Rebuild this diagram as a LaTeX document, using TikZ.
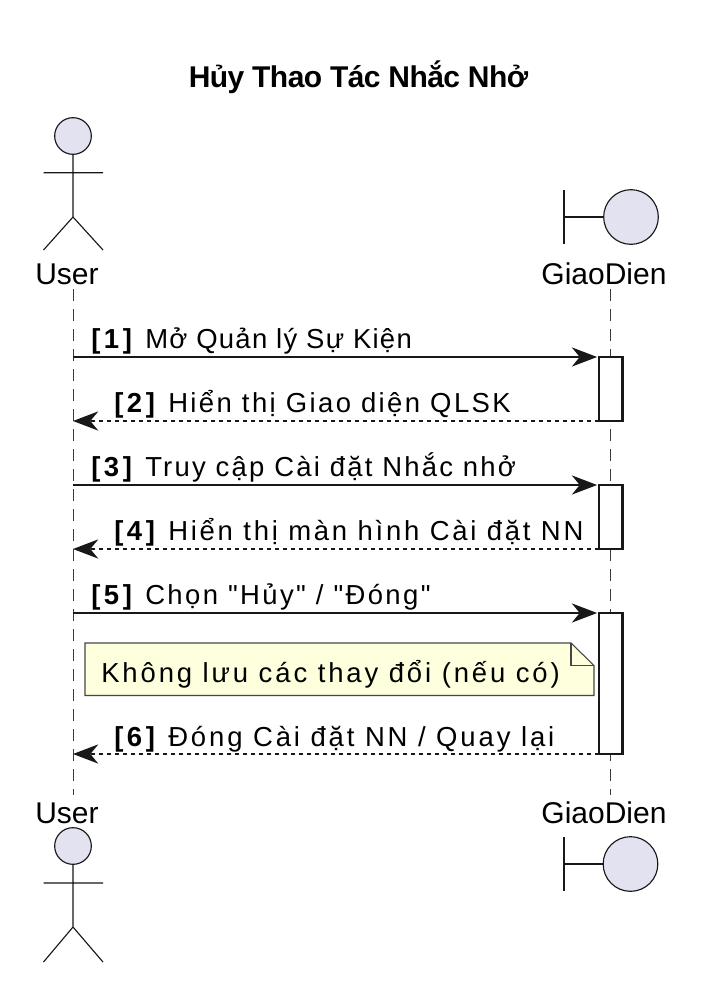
\documentclass[tikz,border=0pt]{standalone}
\usepackage{fontspec}
\setmainfont{Liberation Sans}
\usetikzlibrary{arrows.meta}
\definecolor{ink}{HTML}{181818}
\definecolor{part}{HTML}{E2E2F0}
\definecolor{notefill}{HTML}{FEFFDD}
\newfontfamily\msgfont{Liberation Sans}
\newfontfamily\msgbold[LetterSpace=13]{Liberation Sans Bold}
\newfontfamily\titlefont[LetterSpace=-1.8]{Liberation Sans Bold}
\tikzset{
  glyph/.style={draw=ink,line width=0.85pt},
  headfill/.style={glyph,fill=part},
  life/.style={draw=ink!85,line width=0.75pt,dash pattern=on 9pt off 6pt},
  partlabel/.style={inner sep=0pt,anchor=base,font=\fontsize{22.5}{27}\selectfont,text=black},
  msgtext/.style={inner sep=0pt,anchor=base west,font=\fontsize{20.6}{24}\msgfont,text=black},
  activ/.style={draw=ink,line width=1.6pt,fill=white,minimum width=17.6pt,inner sep=0pt,outer sep=0pt,anchor=north},
  msg/.style={draw=ink,line width=1.5pt,shorten >=1.5pt,-{Stealth[length=19pt,width=14.5pt,inset=6pt,line width=0pt]}},
  ret/.style={draw=ink,line width=1.3pt,dash pattern=on 3.3pt off 2.7pt,-{Stealth[length=19pt,width=14.5pt,inset=6pt,line width=0pt]}},
  notebox/.style={draw=ink!80,line width=0.8pt,fill=notefill}
}
\newcommand{\msgline}[3]{\makebox[40.5pt][l]{\msgbold [#1]}{\addfontfeature{LetterSpace=#2}#3}}
\begin{document}
\begin{tikzpicture}[x=0.75pt,y=-0.75pt]
\useasboundingbox (0,0) rectangle (706,999);
\fill[white] (0,0) rectangle (706,999);
\node[inner sep=0pt,anchor=base,font=\fontsize{22.5}{26}\titlefont] (title) at (358.5,88) {Hủy Thao Tác Nhắc Nhở};

\node[partlabel] (userTop) at (67,284) {User};
\node[partlabel] (giaoTop) at (604,284) {GiaoDien};
\node[partlabel] (userBot) at (67,823) {User};
\node[partlabel] (giaoBot) at (604,823) {GiaoDien};

\coordinate (uTop) at (73,289);
\coordinate (uBot) at (73,795);
\coordinate (gTop) at (610.5,289);
\coordinate (gBot) at (610.5,795);
\draw[life] (uTop) -- (uBot);
\draw[life] (gTop) -- (gBot);

% top actor
\draw[glyph] (73,154) -- (73,217) (43.5,172.7) -- (103,172.7) (43.5,250) -- (73,217) -- (103,250);
\node[headfill,circle,minimum size=27.5pt,inner sep=0pt] (userHeadTop) at (73,136) {};
% bottom actor
\draw[glyph] (73,864) -- (73,927) (43.5,883) -- (103,883) (43.5,962) -- (73,927) -- (103,962);
\node[headfill,circle,minimum size=27.5pt,inner sep=0pt] (userHeadBot) at (73,846) {};
% boundary top
\node[headfill,circle,minimum size=41pt,inner sep=0pt] (boundTop) at (631,217) {};
\coordinate (bTopBar) at (564,217);
\draw[glyph] (564,190) -- (564,244) (bTopBar) -- (boundTop);
% boundary bottom
\node[headfill,circle,minimum size=41pt,inner sep=0pt] (boundBot) at (630.5,864) {};
\coordinate (bBotBar) at (564,864);
\draw[glyph] (564,837) -- (564,891) (bBotBar) -- (boundBot);

% activations
\node[activ,minimum height=48pt] (a1) at (610.8,357) {};
\node[activ,minimum height=48pt] (a2) at (610.8,485) {};
\node[activ,minimum height=105.75pt] (a3) at (610.8,613) {};

% messages
\coordinate (m1) at (73,357); \coordinate (m2) at (73,421);
\coordinate (m3) at (73,485); \coordinate (m4) at (73,549);
\coordinate (m5) at (73,613); \coordinate (m6) at (73,754);
\draw[msg] (m1) -- (a1.north west);
\draw[ret] (a1.south west) -- (m2);
\draw[msg] (m3) -- (a2.north west);
\draw[ret] (a2.south west) -- (m4);
\draw[msg] (m5) -- (a3.north west);
\draw[ret] (a3.south west) -- (m6);

\node[msgtext] (l1) at (91,348.5) {\msgline{1}{4.6}{Mở Quản lý Sự Kiện}};
\node[msgtext] (l2) at (114,412.5) {\msgline{2}{8.75}{Hiển thị Giao diện QLSK}};
\node[msgtext] (l3) at (91,476.5) {\msgline{3}{8.1}{Truy cập Cài đặt Nhắc nhở}};
\node[msgtext] (l4) at (114,540.5) {\msgline{4}{10.05}{Hiển thị màn hình Cài đặt NN}};
\node[msgtext] (l5) at (91,604.5) {\msgline{5}{8.65}{Chọn "Hủy" / "Đóng"}};
\node[msgtext] (l6) at (114,746) {\msgline{6}{10.5}{Đóng Cài đặt NN / Quay lại}};

% note
\draw[notebox] (85,643) -- (571,643) -- (594,665.5) -- (594,695.5) -- (85,695.5) -- cycle;
\draw[notebox,fill=none] (571,643) -- (571,665.5) -- (594,665.5);
\node[msgtext] (noteText) at (101,682) {\addfontfeature{LetterSpace=10.5}Không lưu các thay đổi (nếu có)};
\end{tikzpicture}
\end{document}
